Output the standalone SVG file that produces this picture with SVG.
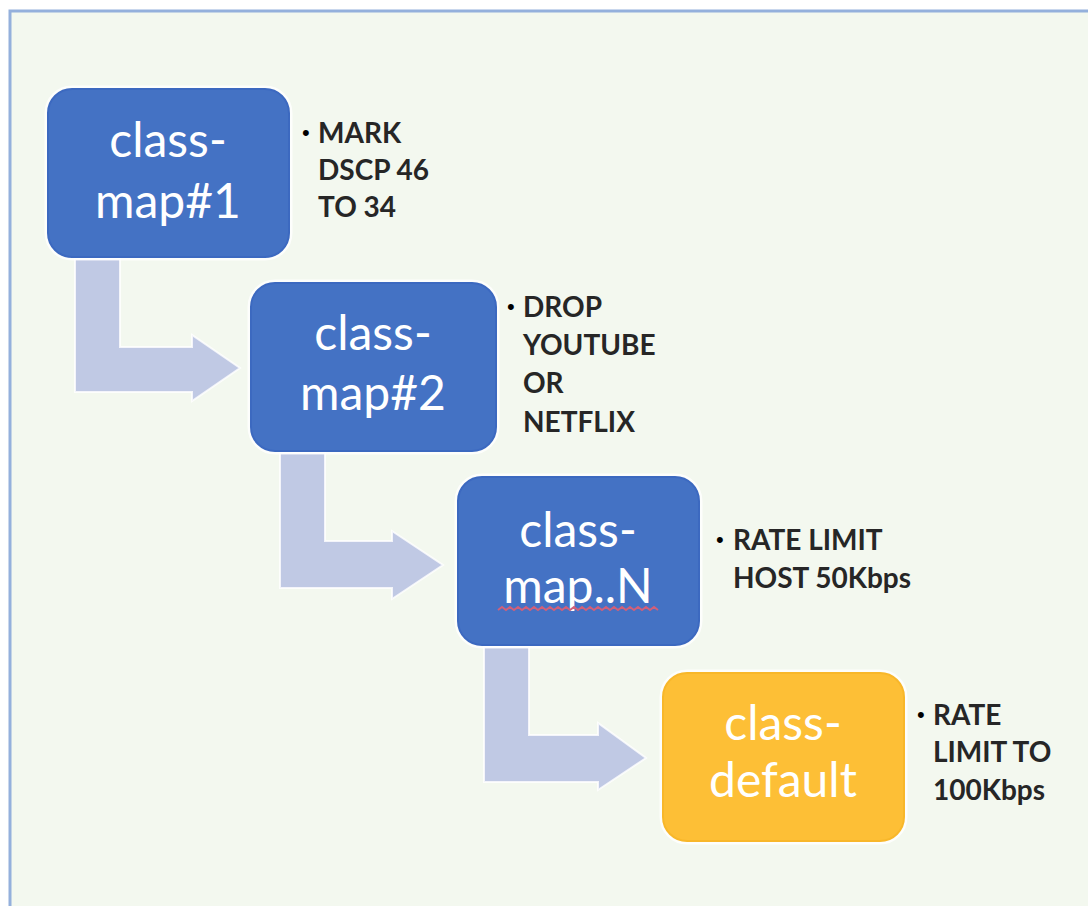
<svg xmlns="http://www.w3.org/2000/svg" width="1088" height="906" viewBox="0 0 1088 906">
  <defs>
    <style>
      .bg { fill: #f3f8ef; stroke: #94b0dc; stroke-width: 3; }
      .box { fill: #4472c4; stroke: #3c69c0; stroke-width: 2; }
      .halo { fill: none; stroke: #ffffff; stroke-width: 3; opacity: 0.8; }
      .obox { fill: #fdbf36; stroke: #f8b72a; stroke-width: 2; }
      .arrow { fill: #c0c9e4; stroke: #ffffff; stroke-width: 2; stroke-opacity: 0.8; }
      .lbl { font-family: Lato, "Open Sans", "Liberation Sans", sans-serif; font-size: 48px; fill: #ffffff; text-anchor: middle; }
      .note { font-family: Lato, "Liberation Sans", sans-serif; font-weight: bold; font-size: 28px; fill: #262626; }
      .bul { font-family: "Liberation Sans", sans-serif; font-size: 22px; fill: #000000; }
    </style>
  </defs>
  <rect x="0" y="0" width="1088" height="906" fill="#ffffff"/>
  <rect class="bg" x="10" y="11" width="1100" height="920"/>

  <g id="connectors">
    <path class="arrow" d="M75,259 L120,259 L120,347 L192,347 L192,335 L240,368 L192,401 L192,392 L75,392 Z"/>
    <path class="arrow" d="M280,453 L325,453 L325,541 L392,541 L392,531 L443,565 L392,599 L392,588 L280,588 Z"/>
    <path class="arrow" d="M484,647 L529,647 L529,735 L598,735 L598,723 L646,758 L598,790 L598,782 L484,782 Z"/>
  </g>

  <g id="node-classmap1">
    <rect class="halo" x="46" y="87" width="245" height="172" rx="26"/>
    <rect class="box" x="48" y="89" width="241" height="168" rx="24"/>
    <text class="lbl" x="168" y="157">class-</text>
    <text class="lbl" x="168" y="218">map#1</text>
  </g>
  <g id="note-classmap1">
    <text class="bul" x="302" y="140">•</text>
    <text class="note" x="318" y="143">MARK</text>
    <text class="note" x="318" y="180">DSCP 46</text>
    <text class="note" x="318" y="217">TO 34</text>
  </g>

  <g id="node-classmap2">
    <rect class="halo" x="249" y="281" width="249" height="172" rx="26"/>
    <rect class="box" x="251" y="283" width="245" height="168" rx="24"/>
    <text class="lbl" x="373" y="350">class-</text>
    <text class="lbl" x="373" y="410">map#2</text>
  </g>
  <g id="note-classmap2">
    <text class="bul" x="507" y="314">•</text>
    <text class="note" x="523" y="317">DROP</text>
    <text class="note" x="523" y="355">YOUTUBE</text>
    <text class="note" x="523" y="393">OR</text>
    <text class="note" x="523" y="432">NETFLIX</text>
  </g>

  <g id="node-classmapN">
    <rect class="halo" x="456" y="475" width="245" height="172" rx="26"/>
    <rect class="box" x="458" y="477" width="241" height="168" rx="24"/>
    <text class="lbl" x="578" y="547">class-</text>
    <text class="lbl" x="578" y="603">map..N</text>
    <path d="M498,610 l4,-3 l4,3 l4,-3 l4,3 l4,-3 l4,3 l4,-3 l4,3 l4,-3 l4,3 l4,-3 l4,3 l4,-3 l4,3 l4,-3 l4,3 l4,-3 l4,3 l4,-3 l4,3 l4,-3 l4,3 l4,-3 l4,3 l4,-3 l4,3 l4,-3 l4,3 l4,-3 l4,3 l4,-3 l4,3 l4,-3 l4,3 l4,-3 l4,3 l4,-3 l4,3 l4,-3 l4,3" fill="none" stroke="#d0607a" stroke-width="2"/>
  </g>
  <g id="note-classmapN">
    <text class="bul" x="716" y="547">•</text>
    <text class="note" x="733" y="550">RATE LIMIT</text>
    <text class="note" x="733" y="588">HOST 50Kbps</text>
  </g>

  <g id="node-classdefault">
    <rect class="halo" x="661" y="671" width="245" height="172" rx="26"/>
    <rect class="obox" x="663" y="673" width="241" height="168" rx="24"/>
    <text class="lbl" x="783" y="740" fill="#fffbea">class-</text>
    <text class="lbl" x="783" y="797">default</text>
  </g>
  <g id="note-classdefault">
    <text class="bul" x="917" y="722">•</text>
    <text class="note" x="933" y="725">RATE</text>
    <text class="note" x="933" y="762">LIMIT TO</text>
    <text class="note" x="933" y="800">100Kbps</text>
  </g>
</svg>
